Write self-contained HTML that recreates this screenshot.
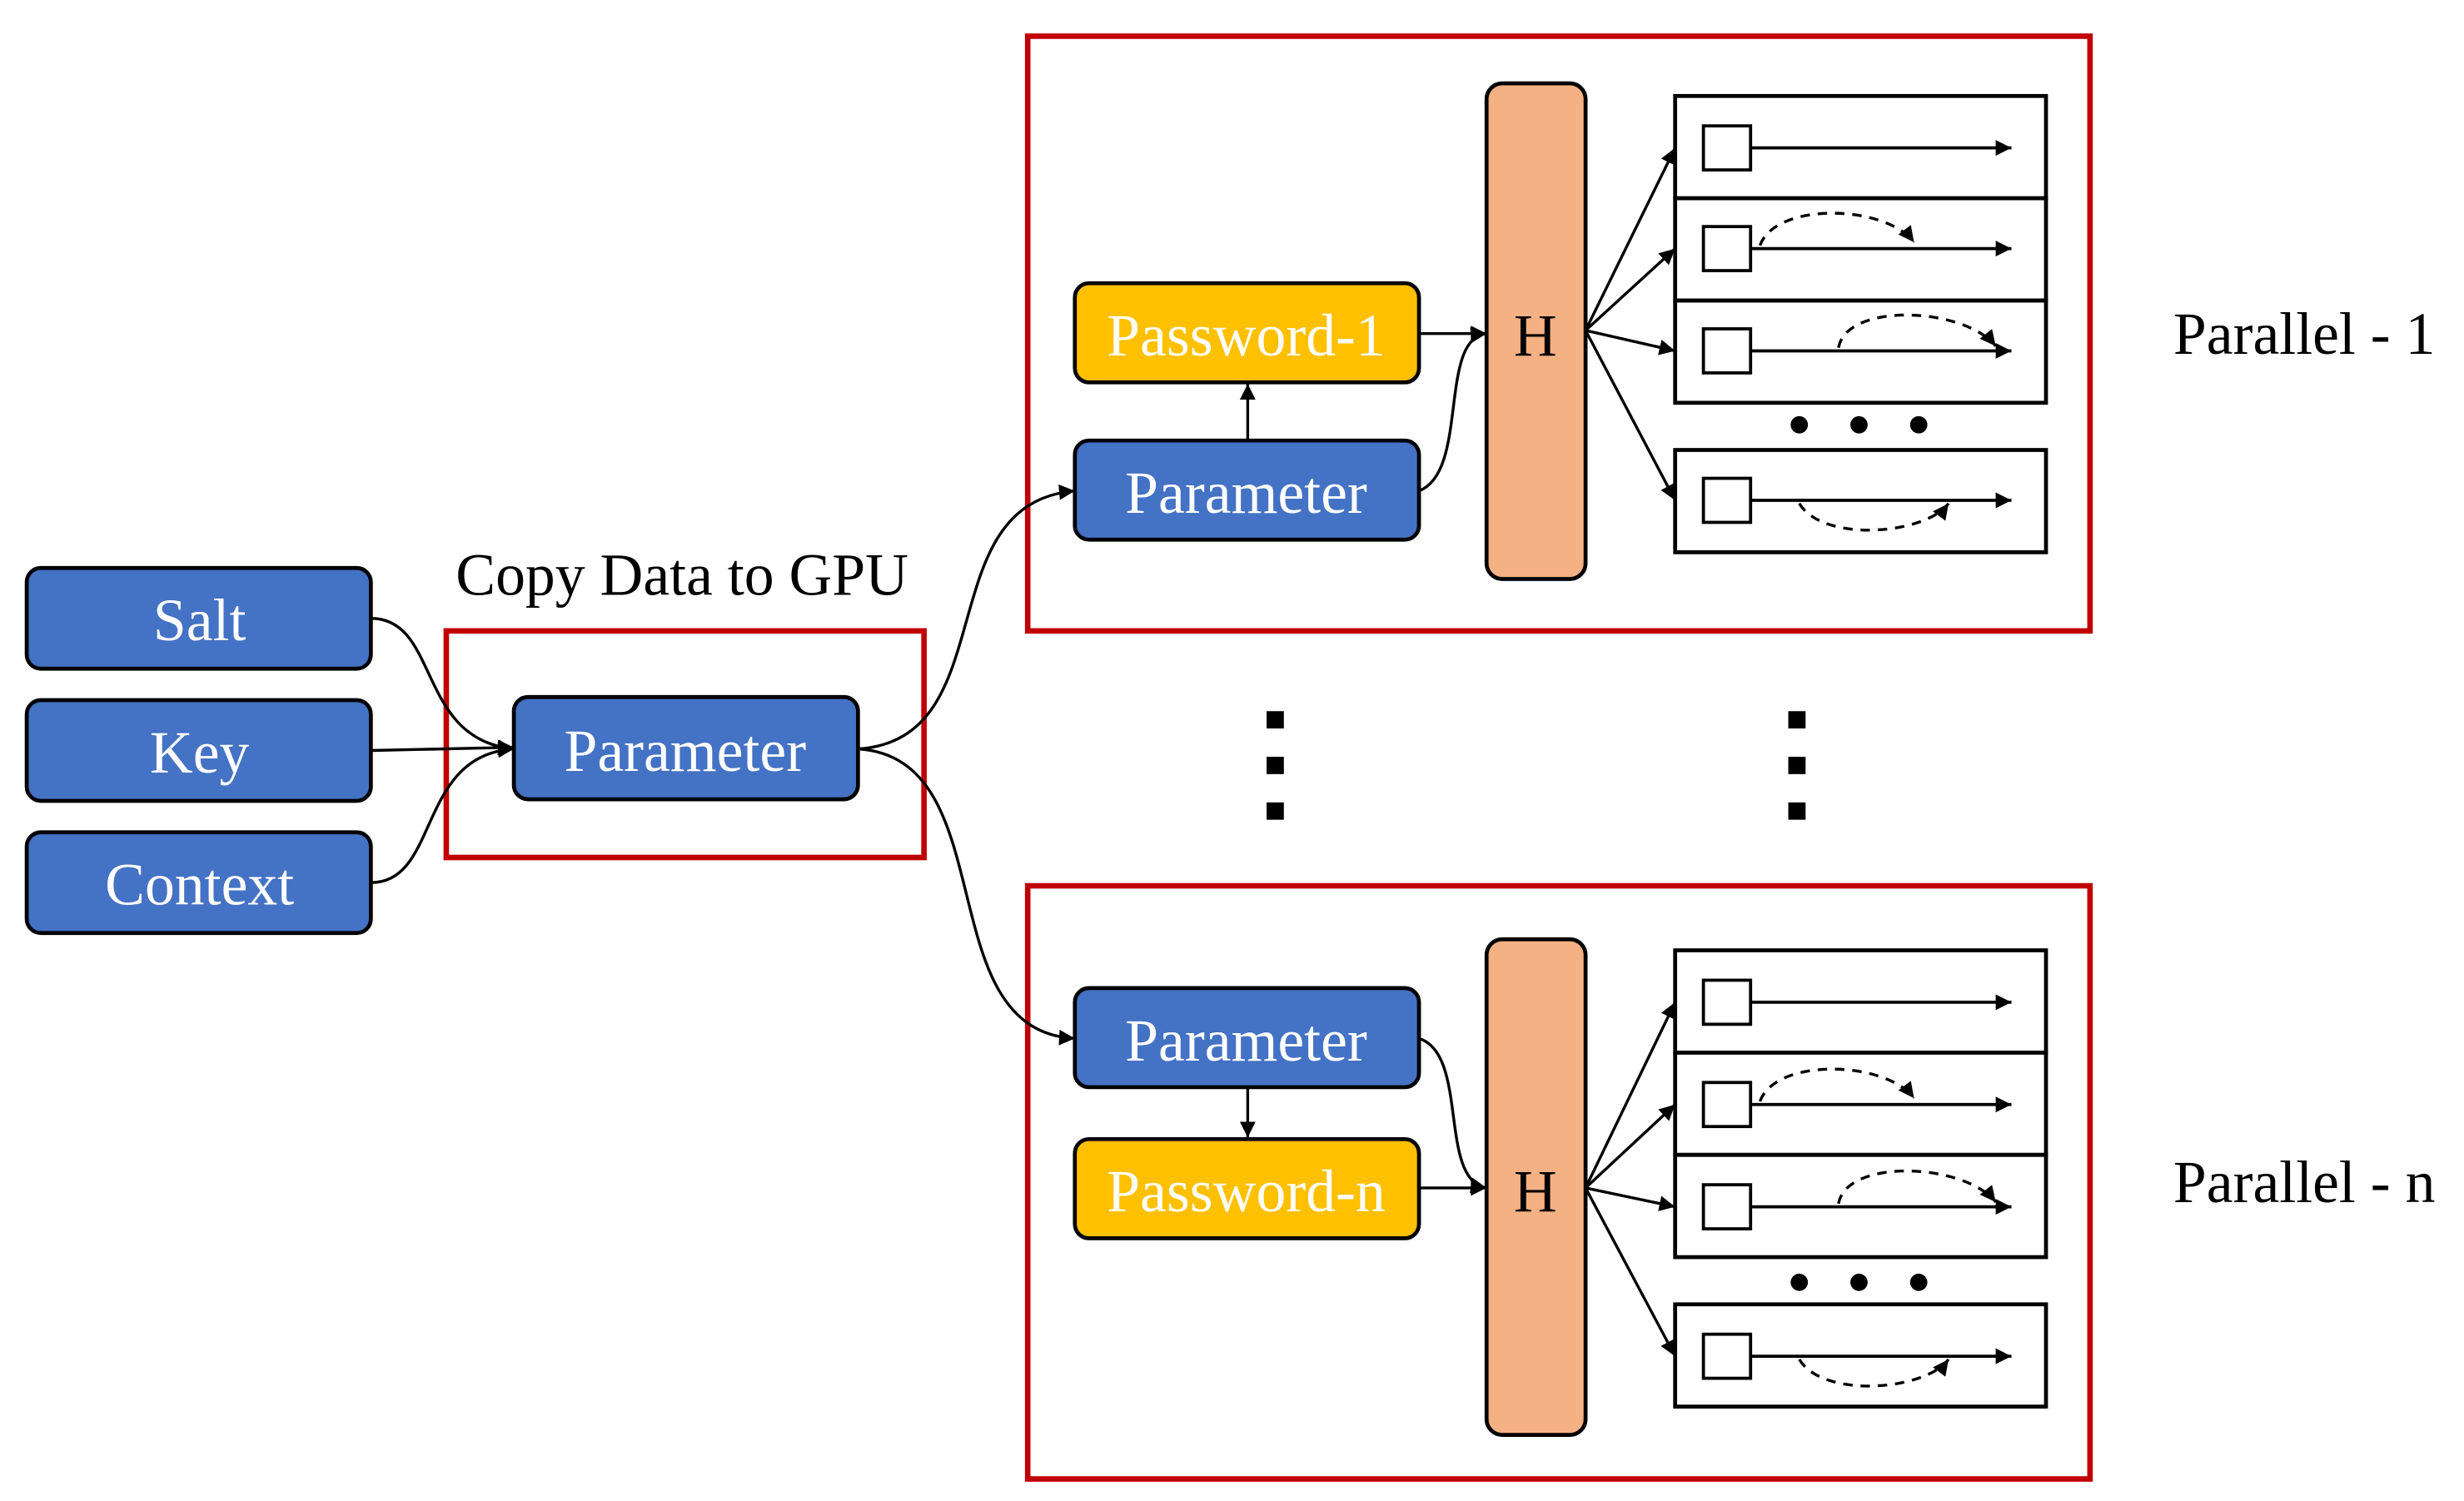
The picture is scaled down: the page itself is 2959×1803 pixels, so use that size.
<!DOCTYPE html>
<html><head><style>html,body{margin:0;padding:0;background:#fff}svg{display:block}</style></head>
<body>
<svg width="2959" height="1803" viewBox="0 0 1568 954" preserveAspectRatio="none" xmlns="http://www.w3.org/2000/svg" font-family="Liberation Serif, serif">
<defs>
<marker id="b" viewBox="0 0 10 10" refX="10" refY="5" markerWidth="12" markerHeight="10" orient="auto" markerUnits="userSpaceOnUse"><path d="M0,0 L10,5 L0,10 z"/></marker>
<g id="row1">
<rect x="1084" y="-14" width="30" height="28" fill="#fff" stroke="#000" stroke-width="2"/>
<line x1="1114" y1="0" x2="1280" y2="0" stroke="#000" stroke-width="2" marker-end="url(#b)"/>
</g>
</defs>
<g fill="#fff" stroke="#000" stroke-width="2.5">
<rect x="17" y="361" width="219" height="64" rx="9" fill="#4472C4"/>
<rect x="17" y="445" width="219" height="64" rx="9" fill="#4472C4"/>
<rect x="17" y="529" width="219" height="64" rx="9" fill="#4472C4"/>
<rect x="327" y="443" width="219" height="65" rx="9" fill="#4472C4"/>
</g>
<g fill="#fff" font-size="38" text-anchor="middle">
<text x="127" y="407">Salt</text>
<text x="127" y="491">Key</text>
<text x="127" y="575">Context</text>
<text x="436" y="490">Parameter</text>
</g>
<text x="290" y="378" font-size="38">Copy Data to GPU</text>
<g fill="none" stroke="#C00000" stroke-width="3.5">
<rect x="284" y="401" width="304" height="144"/>
<rect x="654" y="23" width="676" height="378"/>
<rect x="654" y="563" width="676" height="377"/>
</g>
<g fill="none" stroke="#000" stroke-width="1.8">
<path d="M236,393 C280,393 265,470 327,476" marker-end="url(#b)"/>
<path d="M236,477 L327,475" marker-end="url(#b)"/>
<path d="M236,561 C280,561 265,480 327,476" marker-end="url(#b)"/>
<path d="M546,476 C640,470 590,320 684,312" marker-end="url(#b)"/>
<path d="M546,476 C640,482 590,655 684,660" marker-end="url(#b)"/>
<line x1="794" y1="280" x2="794" y2="244" marker-end="url(#b)"/>
<line x1="903" y1="212" x2="946" y2="212" marker-end="url(#b)"/>
<path d="M903,312 C935,300 915,215 946,212" marker-end="url(#b)"/>
<line x1="1009" y1="210" x2="1066" y2="94" marker-end="url(#b)"/>
<line x1="1009" y1="210" x2="1066" y2="158" marker-end="url(#b)"/>
<line x1="1009" y1="210" x2="1066" y2="223" marker-end="url(#b)"/>
<line x1="1009" y1="210" x2="1066" y2="318" marker-end="url(#b)"/>
<line x1="794" y1="691" x2="794" y2="723" marker-end="url(#b)"/>
<line x1="903" y1="755" x2="946" y2="755" marker-end="url(#b)"/>
<path d="M903,660 C935,670 915,750 946,755" marker-end="url(#b)"/>
<line x1="1009" y1="755" x2="1066" y2="637" marker-end="url(#b)"/>
<line x1="1009" y1="755" x2="1066" y2="702" marker-end="url(#b)"/>
<line x1="1009" y1="755" x2="1066" y2="767" marker-end="url(#b)"/>
<line x1="1009" y1="755" x2="1066" y2="862" marker-end="url(#b)"/>
</g>
<g stroke="#000" stroke-width="2.5">
<rect x="684" y="180" width="219" height="63" rx="9" fill="#FFC000"/>
<rect x="684" y="280" width="219" height="63" rx="9" fill="#4472C4"/>
<rect x="946" y="53" width="63" height="315" rx="10" fill="#F4B183"/>
<rect x="684" y="628" width="219" height="63" rx="9" fill="#4472C4"/>
<rect x="684" y="724" width="219" height="63" rx="9" fill="#FFC000"/>
<rect x="946" y="597" width="63" height="315" rx="10" fill="#F4B183"/>
</g>
<g fill="#fff" font-size="38" text-anchor="middle">
<text x="793" y="226">Password-1</text>
<text x="793" y="326">Parameter</text>
<text x="793" y="674">Parameter</text>
<text x="793" y="770">Password-n</text>
</g>
<g font-size="38" text-anchor="middle">
<text x="977" y="226">H</text>
<text x="977" y="770">H</text>
</g>
<text x="1383" y="225" font-size="38">Parallel - 1</text>
<text x="1383" y="764" font-size="38">Parallel - n</text>
<g fill="none" stroke="#000" stroke-width="2.5">
<rect x="1066" y="61" width="236" height="65"/><rect x="1066" y="126" width="236" height="65"/><rect x="1066" y="191" width="236" height="65"/><rect x="1066" y="286" width="236" height="65"/>
<rect x="1066" y="604" width="236" height="65"/><rect x="1066" y="669" width="236" height="65"/><rect x="1066" y="734" width="236" height="65"/><rect x="1066" y="829" width="236" height="65"/>
</g>
<use href="#row1" y="94"/><use href="#row1" y="158"/><use href="#row1" y="223"/><use href="#row1" y="318"/>
<use href="#row1" y="637"/><use href="#row1" y="702"/><use href="#row1" y="767"/><use href="#row1" y="862"/>
<g fill="none" stroke="#000" stroke-width="1.8" stroke-dasharray="6,5">
<path d="M1120,156 C1130,128 1200,130 1218,154" marker-end="url(#b)"/>
<path d="M1170,221 C1175,192 1250,195 1270,220" marker-end="url(#b)"/>
<path d="M1145,320 C1160,345 1225,340 1240,320" marker-end="url(#b)"/>
<path d="M1120,700 C1130,672 1200,674 1218,698" marker-end="url(#b)"/>
<path d="M1170,765 C1175,736 1250,739 1270,764" marker-end="url(#b)"/>
<path d="M1145,864 C1160,889 1225,884 1240,864" marker-end="url(#b)"/>
</g>
<g fill="#000">
<circle cx="1145" cy="270" r="5.5"/><circle cx="1183" cy="270" r="5.5"/><circle cx="1221" cy="270" r="5.5"/>
<circle cx="1145" cy="815" r="5.5"/><circle cx="1183" cy="815" r="5.5"/><circle cx="1221" cy="815" r="5.5"/>
<rect x="806" y="452" width="11" height="11"/><rect x="806" y="481" width="11" height="11"/><rect x="806" y="510" width="11" height="11"/>
<rect x="1138" y="452" width="11" height="11"/><rect x="1138" y="481" width="11" height="11"/><rect x="1138" y="510" width="11" height="11"/>
</g>
</svg>
</body></html>
